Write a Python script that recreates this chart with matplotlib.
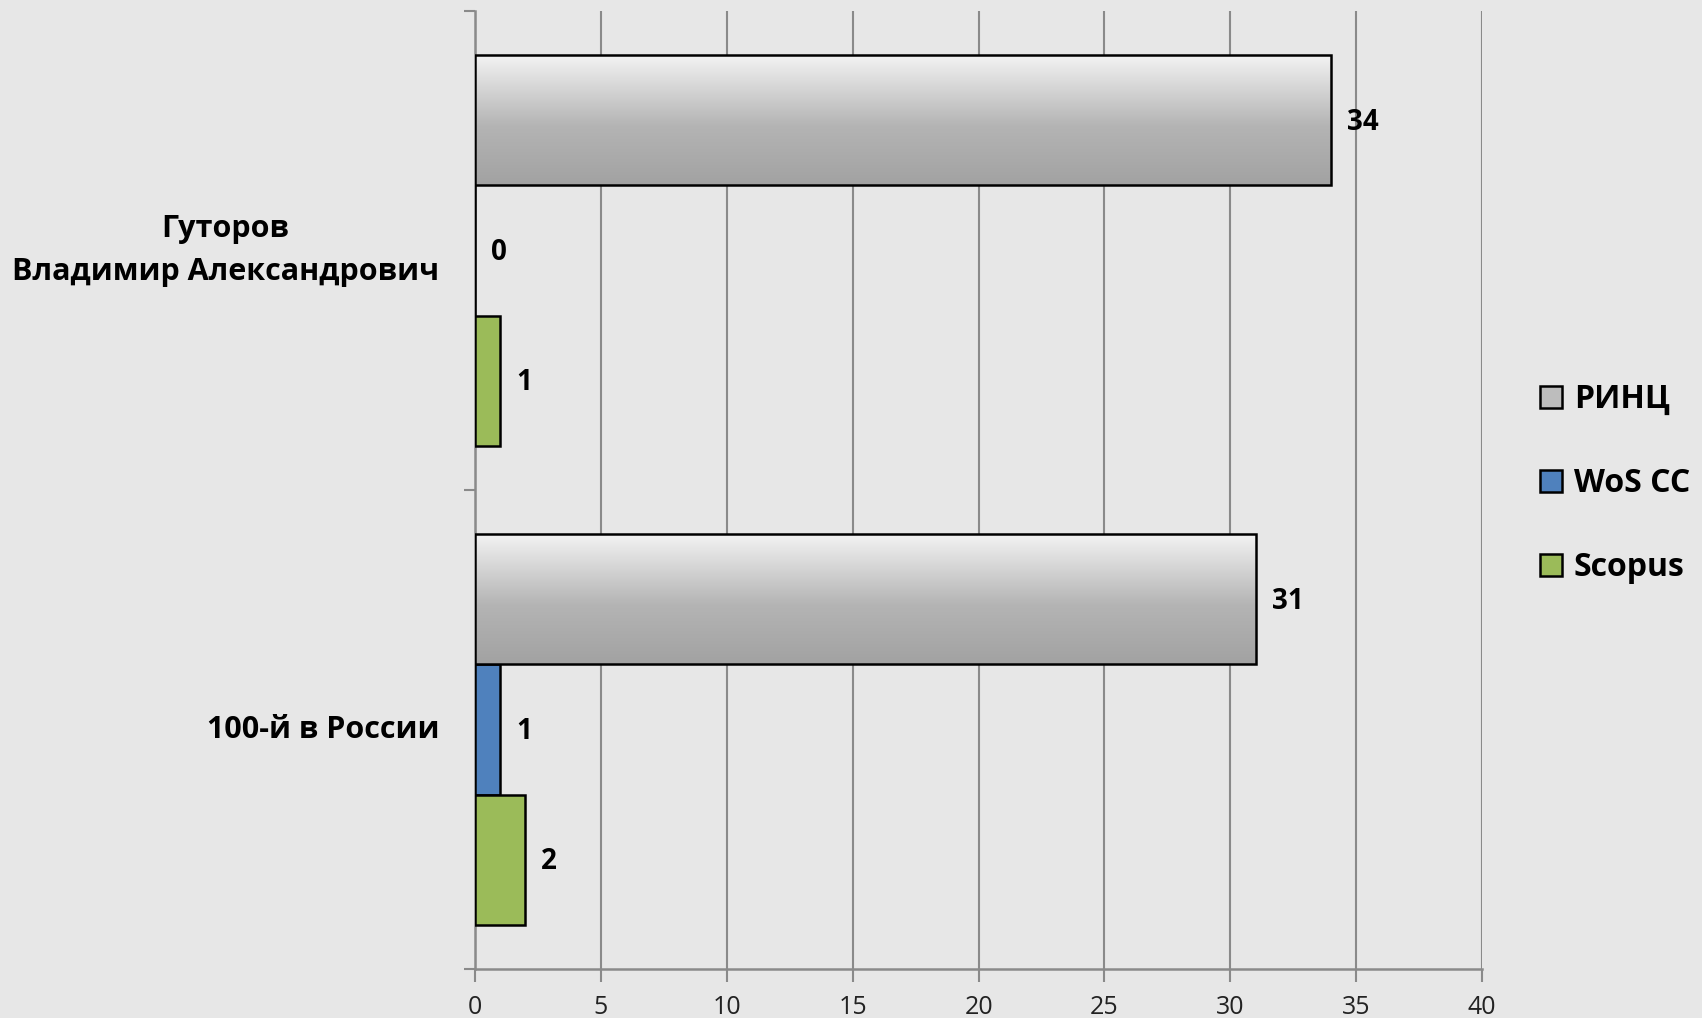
import matplotlib
matplotlib.use("Agg")
import matplotlib.pyplot as plt
from matplotlib.colors import LinearSegmentedColormap
from matplotlib.patches import Patch
import numpy as np

# data
categories = ["Гуторов\nВладимир Александрович", "100-й в России"]
series = ["РИНЦ", "WoS CC", "Scopus"]
rinc = [34, 31]
wos = [0, 1]
scopus = [1, 2]
xticks = [0, 5, 10, 15, 20, 25, 30, 35, 40]

colors = ["#bdbdbd", "#4f81bd", "#9bbb59"]
bg = "#e7e7e7"
grid_c = "#8a8a8a"
font = ["Open Sans", "DejaVu Sans"]

fig = plt.figure(figsize=(17.02, 10.18), dpi=100, facecolor=bg)
ax = fig.add_axes([0.2791, 0.0481, 0.5917, 0.941])
ax.set_facecolor("none")

h = 0.272
y = np.arange(len(categories))
vals = [rinc, wos, scopus]
bars = []
for i, v in enumerate(vals):
    b = ax.barh(y + (i - 1) * h, v, height=h, color=colors[i],
                edgecolor="black", linewidth=1.8, zorder=3)
    bars.append(b)

# gradient fill for the grey series
cmap = LinearSegmentedColormap.from_list(
    "g", [(0, "#f4f4f4"), (0.15, "#e2e2e2"), (0.55, "#b4b4b4"), (1, "#a2a2a2")])
grad = np.linspace(0, 1, 256).reshape(-1, 1)
for p in bars[0]:
    x0, y0 = p.get_x(), p.get_y()
    w, hh = p.get_width(), p.get_height()
    im = ax.imshow(grad, cmap=cmap, aspect="auto", extent=(x0, x0 + w, y0 + hh, y0),
                   origin="upper", zorder=3.5)
    im.set_clip_path(p)
    p.set_facecolor("none")
    p.set_zorder(4)

# value labels
for b, v in zip(bars, vals):
    for p, val in zip(b, v):
        ax.annotate(str(val), (p.get_width(), p.get_y() + p.get_height() / 2),
                    xytext=(16, -2), textcoords="offset pixels",
                    ha="left", va="center", fontsize=20, fontweight="bold",
                    family=font, color="black", zorder=5)

ax.set_xlim(0, 40)
ax.set_ylim(1.5, -0.5)
ax.set_xticks(xticks)
ax.set_xticklabels([str(t) for t in xticks], fontsize=18, family=font, color="#222222")
ax.tick_params(axis="x", length=9, width=1.5, color=grid_c, pad=10)

# category labels, centred on each group
ax.set_yticks(y)
ax.set_yticklabels([])
ax.tick_params(axis="y", which="major", length=0)
for yi, cat in zip(y, categories):
    ax.annotate(cat, (0, yi), xycoords=("axes fraction", "data"),
                xytext=(-36, 0), textcoords="offset pixels",
                ha="right", va="center", multialignment="center", linespacing=1.6,
                fontsize=22, fontweight="bold", family=font, color="black")
ax.set_yticks([-0.5, 0.5, 1.5], minor=True)
ax.tick_params(axis="y", which="minor", length=8, width=1.5, color=grid_c)

ax.grid(axis="x", color=grid_c, linewidth=1.5, zorder=0)
ax.set_axisbelow(True)
for s in ["top", "right"]:
    ax.spines[s].set_visible(False)
for s in ["left", "bottom"]:
    ax.spines[s].set_color(grid_c)
    ax.spines[s].set_linewidth(1.8)

handles = [Patch(facecolor=c, edgecolor="black", linewidth=1.8) for c in colors]
fig.legend(handles, series, loc="center left", bbox_to_anchor=(0.888, 0.525),
           frameon=False, prop={"family": font, "size": 23, "weight": "bold"},
           handlelength=0.7, handleheight=0.7, handletextpad=0.35, labelspacing=1.6)

fig.savefig("out.png", dpi=100, facecolor=bg)
